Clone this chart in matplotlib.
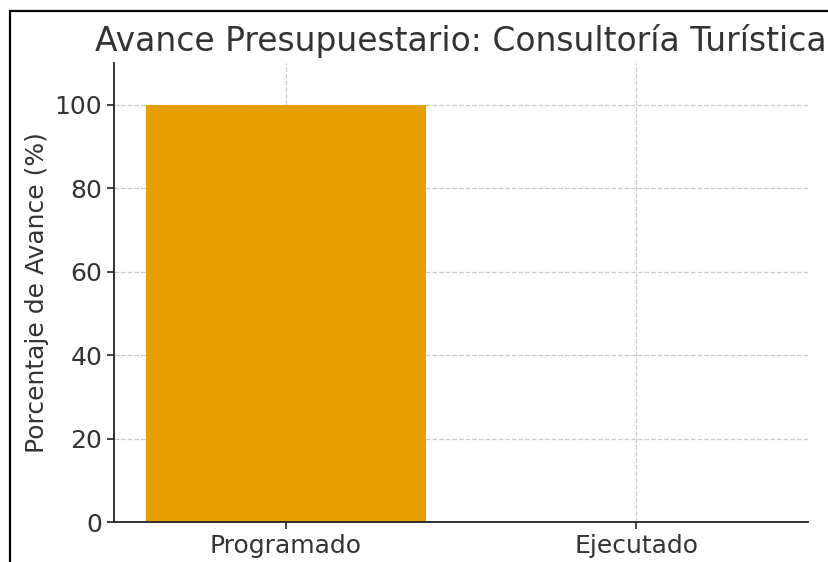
import matplotlib
matplotlib.use("Agg")
import matplotlib.pyplot as plt
from matplotlib.patches import Rectangle

categorias = ["Programado", "Ejecutado"]
avance = [100, 0]
yticks = [0, 20, 40, 60, 80, 100]

plt.rcParams['font.family'] = ['DejaVu Sans']
txt = "#333333"

fig = plt.figure(figsize=(8.29, 5.62), dpi=100)
# marco de la figura (recortado por la derecha y abajo)
fig.patches.append(Rectangle((10 / 829, -0.1), 1.2, (562 - 11) / 562 + 0.1,
                             transform=fig.transFigure, fill=False,
                             edgecolor="black", linewidth=1.6))

ax = fig.add_axes([114 / 829, 40 / 562, (808 - 114) / 829, (522 - 63) / 562])
ax.bar(categorias, avance, color="#E69F00", width=0.8, zorder=2)
ax.set_ylim(0, 110)
ax.set_yticks(yticks)
ax.grid(True, linestyle="--", color="#cccccc", linewidth=0.9, zorder=0)
ax.set_axisbelow(True)
for s in ["top", "right"]:
    ax.spines[s].set_visible(False)
for s in ["left", "bottom"]:
    ax.spines[s].set_linewidth(1.3)
    ax.spines[s].set_color("#222222")
ax.tick_params(labelsize=18, colors="#222222", labelcolor=txt, length=5, width=1.2)
ax.set_ylabel("Porcentaje de Avance (%)", fontsize=18, color=txt, labelpad=4)
ax.set_title("Avance Presupuestario: Consultoría Turística", fontsize=23.7,
             color=txt, pad=9)

fig.savefig("out.png", dpi=100)
